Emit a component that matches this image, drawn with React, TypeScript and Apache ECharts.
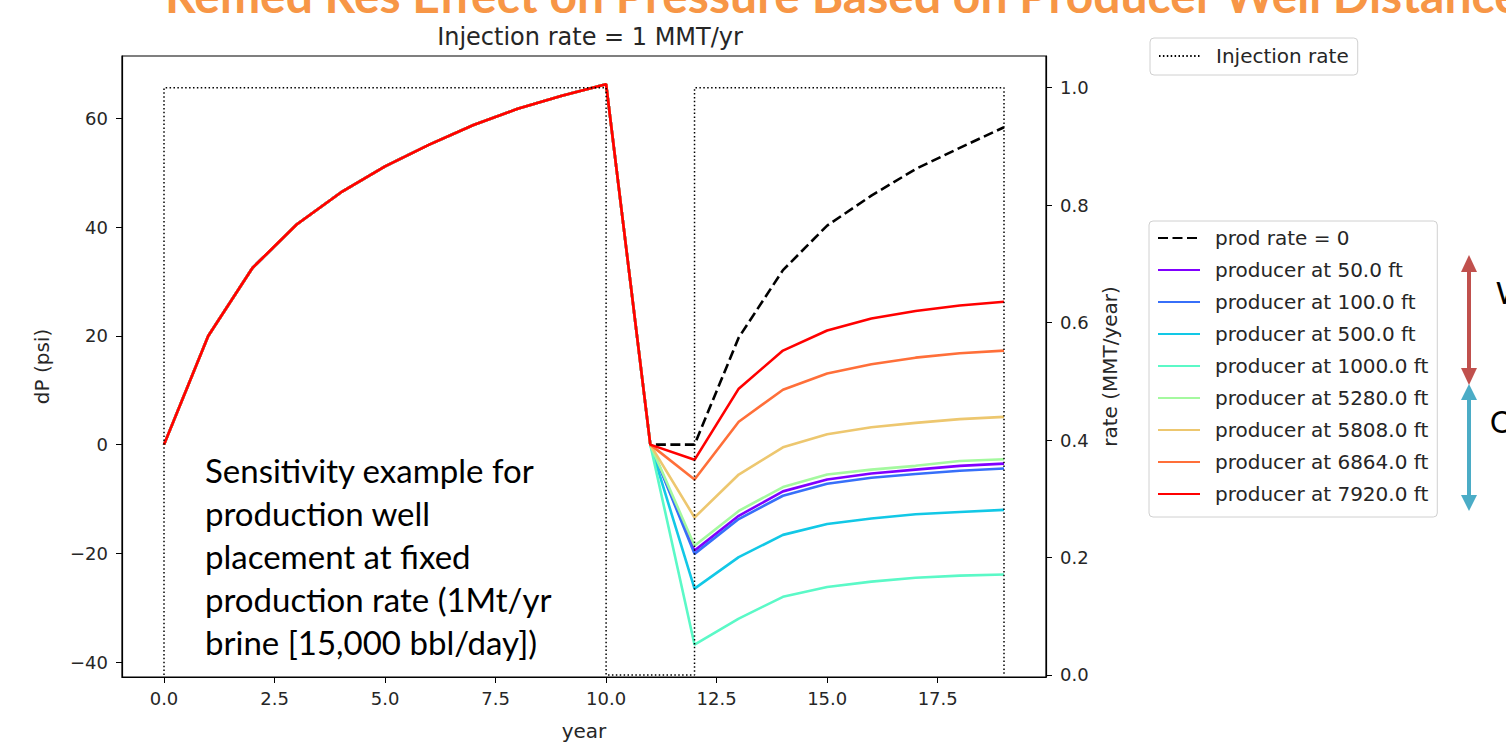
import React, { useEffect, useRef } from 'react';
import * as echarts from 'echarts';

// ---- data ----
const earlyYears = [0, 1, 2, 3, 4, 5, 6, 7, 8, 9, 10, 11];
const earlyDP = [0, 20.0, 32.5, 40.5, 46.4, 51.2, 55.2, 58.8, 61.8, 64.2, 66.3, 0];
const lateYears = [12, 13, 14, 15, 16, 17, 18, 19];

const prodRateZero = [0, 19.7, 32.1, 40.3, 45.8, 50.7, 54.6, 58.4];
const producer50 = [-19.5, -13.1, -8.6, -6.4, -5.3, -4.6, -3.9, -3.5];
const producer100 = [-20.1, -13.7, -9.4, -7.2, -6.1, -5.4, -4.8, -4.4];
const producer500 = [-26.5, -20.7, -16.6, -14.6, -13.6, -12.8, -12.4, -12.0];
const producer1000 = [-36.8, -32.0, -28.0, -26.2, -25.2, -24.5, -24.1, -23.9];
const producer5280 = [-18.6, -12.2, -7.8, -5.5, -4.6, -3.9, -3.0, -2.7];
const producer5808 = [-13.4, -5.5, -0.5, 1.9, 3.2, 4.0, 4.7, 5.1];
const producer6864 = [-6.4, 4.2, 10.1, 13.1, 14.8, 16.0, 16.8, 17.3];
const producer7920 = [-2.8, 10.3, 17.3, 21.0, 23.2, 24.6, 25.6, 26.3];

const injectionYears = [0, 0, 10, 10, 12, 12, 19, 19];
const injectionRate = [0, 1, 1, 0, 0, 1, 1, 0];

const xTicks = [0, 2.5, 5, 7.5, 10, 12.5, 15, 17.5];
const dpTicks = [-40, -20, 0, 20, 40, 60];
const rateTicks = [0, 0.2, 0.4, 0.6, 0.8, 1.0];

const producerNames = [
  'producer at 50.0 ft',
  'producer at 100.0 ft',
  'producer at 500.0 ft',
  'producer at 1000.0 ft',
  'producer at 5280.0 ft',
  'producer at 5808.0 ft',
  'producer at 6864.0 ft',
  'producer at 7920.0 ft',
];
const producerValues = [
  producer50, producer100, producer500, producer1000,
  producer5280, producer5808, producer6864, producer7920,
];
const producerColors = [
  '#8000ff', '#376ff9', '#12c8e6', '#5bf9c7',
  '#a4f99f', '#edc76f', '#ff6f39', '#ff0000',
];

const annotation = [
  'Sensitivity example for',
  'production well',
  'placement at fixed',
  'production rate (1Mt/yr',
  'brine [15,000 bbl/day])',
];

const FONT = 'DejaVu Sans';
const TXT = '#262626';

function buildSeriesData(late: number[]) {
  const pts: number[][] = earlyYears.map((y, i) => [y, earlyDP[i]]);
  lateYears.forEach((y, i) => pts.push([y, late[i]]));
  return pts;
}

export default function App() {
  const ref = useRef<HTMLDivElement>(null);

  useEffect(() => {
    if (!ref.current) return;
    const chart = echarts.init(ref.current, undefined, { renderer: 'svg' });

    const dpSeries: any[] = [
      {
        name: 'prod rate = 0',
        type: 'line',
        data: buildSeriesData(prodRateZero),
        symbol: 'none',
        lineStyle: { color: '#000', width: 2.6, type: [10, 4.5] },
        itemStyle: { color: '#000' },
        z: 2,
      },
      ...producerNames.map((n, i) => ({
        name: n,
        type: 'line',
        data: buildSeriesData(producerValues[i]),
        symbol: 'none',
        lineStyle: { color: producerColors[i], width: 2.6 },
        itemStyle: { color: producerColors[i] },
        z: 3 + i,
      })),
    ];

    const legendText = { fontFamily: FONT, fontSize: 20, color: TXT, lineHeight: 22, padding: [0, 0, 0, 10] };

    const option: any = {
      animation: false,
      backgroundColor: '#fff',
      title: {
        text: 'Injection rate = 1 MMT/yr',
        left: 585,
        top: 20,
        textAlign: 'center',
        textStyle: { fontFamily: FONT, fontSize: 24, fontWeight: 'normal', color: TXT },
      },
      legend: [
        {
          data: ['Injection rate'],
          left: 1150,
          top: 38,
          padding: [7, 9, 8, 8],
          itemWidth: 42,
          itemHeight: 14,
          borderColor: '#d0d0d0',
          borderWidth: 1,
          borderRadius: 4,
          selectedMode: false,
          itemStyle: { opacity: 0 },
          textStyle: legendText,
        },
        {
          data: ['prod rate = 0', ...producerNames],
          orient: 'vertical',
          left: 1149,
          top: 221,
          padding: [6, 9, 12, 8],
          itemWidth: 42,
          itemHeight: 14,
          itemGap: 10,
          borderColor: '#d0d0d0',
          borderWidth: 1,
          borderRadius: 4,
          selectedMode: false,
          itemStyle: { opacity: 0 },
          textStyle: legendText,
        },
      ],
      grid: {
        left: 122,
        right: 460,
        top: 56,
        bottom: 64,
        show: true,
        borderColor: '#000',
        borderWidth: 1.2,
        backgroundColor: 'transparent',
      },
      xAxis: {
        type: 'value',
        min: -0.95,
        max: 19.95,
        name: 'year',
        nameLocation: 'middle',
        nameGap: 44,
        nameTextStyle: { fontFamily: FONT, fontSize: 20, color: TXT },
        axisLine: { show: true, onZero: false, lineStyle: { color: '#000', width: 1.2 } },
        axisTick: { show: true, length: 6, customValues: xTicks, lineStyle: { color: '#000' } },
        axisLabel: {
          customValues: xTicks,
          margin: 12,
          fontFamily: FONT,
          fontSize: 18,
          color: TXT,
          formatter: (v: number) => v.toFixed(1),
        },
        splitLine: { show: false },
      },
      yAxis: [
        {
          type: 'value',
          min: -42.75,
          max: 71.5,
          name: 'dP (psi)',
          nameLocation: 'middle',
          nameGap: 70,
          nameTextStyle: { fontFamily: FONT, fontSize: 20, color: TXT },
          axisLine: { show: true, onZero: false, lineStyle: { color: '#000', width: 1.2 } },
          axisTick: { show: true, length: 6, customValues: dpTicks, lineStyle: { color: '#000' } },
          axisLabel: {
            customValues: dpTicks,
            margin: 14,
            fontFamily: FONT,
            fontSize: 18,
            color: TXT,
            formatter: (v: number) => (v < 0 ? '\u2212' + Math.abs(v) : String(v)),
          },
          splitLine: { show: false },
        },
        {
          type: 'value',
          position: 'right',
          min: -0.0035,
          max: 1.054,
          name: 'rate (MMT/year)',
          nameLocation: 'middle',
          nameGap: 54,
          nameRotate: 90,
          nameTextStyle: { fontFamily: FONT, fontSize: 20, color: TXT },
          axisLine: { show: true, onZero: false, lineStyle: { color: '#000', width: 1.2 } },
          axisTick: { show: true, length: 6, customValues: rateTicks, lineStyle: { color: '#000' } },
          axisLabel: {
            customValues: rateTicks,
            margin: 14,
            fontFamily: FONT,
            fontSize: 18,
            color: TXT,
            formatter: (v: number) => v.toFixed(1),
          },
          splitLine: { show: false },
        },
      ],
      series: [
        ...dpSeries,
        {
          name: 'Injection rate',
          type: 'line',
          yAxisIndex: 1,
          data: injectionYears.map((y, i) => [y, injectionRate[i]]),
          symbol: 'none',
          lineStyle: { color: '#000', width: 1.5, type: [1.5, 2.4] },
          itemStyle: { color: '#000' },
          z: 20,
        },
      ],
      graphic: [
        {
          type: 'text',
          x: 165,
          y: 18,
          style: {
            text: 'Remed Res Effect on Pressure Based on Producer Well Distance',
            font: 'bold 48px Lato',
            fill: '#f79646',
            textVerticalAlign: 'bottom',
          },
          z: 50,
        },
        {
          type: 'text',
          x: 205,
          y: 448,
          style: {
            text: annotation.join('\n'),
            font: '33px Lato',
            lineHeight: 43,
            fill: '#000',
          },
          z: 50,
        },
        // red double arrow
        { type: 'line', shape: { x1: 1469, y1: 266, x2: 1469, y2: 372 }, style: { stroke: '#c0504d', lineWidth: 4 }, z: 50 },
        { type: 'polygon', shape: { points: [[1469, 255], [1461, 272], [1477, 272]] }, style: { fill: '#c0504d' }, z: 50 },
        { type: 'polygon', shape: { points: [[1469, 385], [1461, 368], [1477, 368]] }, style: { fill: '#c0504d' }, z: 50 },
        // blue double arrow
        { type: 'line', shape: { x1: 1469, y1: 396, x2: 1469, y2: 499 }, style: { stroke: '#4bacc6', lineWidth: 4 }, z: 50 },
        { type: 'polygon', shape: { points: [[1469, 384], [1461, 400], [1477, 400]] }, style: { fill: '#4bacc6' }, z: 50 },
        { type: 'polygon', shape: { points: [[1469, 511], [1461, 495], [1477, 495]] }, style: { fill: '#4bacc6' }, z: 50 },
        {
          type: 'text', x: 1496, y: 292,
          style: { text: 'W', font: '30px Lato', fill: '#000', textVerticalAlign: 'middle' }, z: 50,
        },
        {
          type: 'text', x: 1490, y: 421,
          style: { text: 'O', font: '30px Lato', fill: '#000', textVerticalAlign: 'middle' }, z: 50,
        },
      ],
    };

    chart.setOption(option);
    return () => chart.dispose();
  }, []);

  return (
    <div
      ref={ref}
      style={{ position: 'absolute', left: 0, top: 0, width: 1506, height: 746 }}
    />
  );
}
